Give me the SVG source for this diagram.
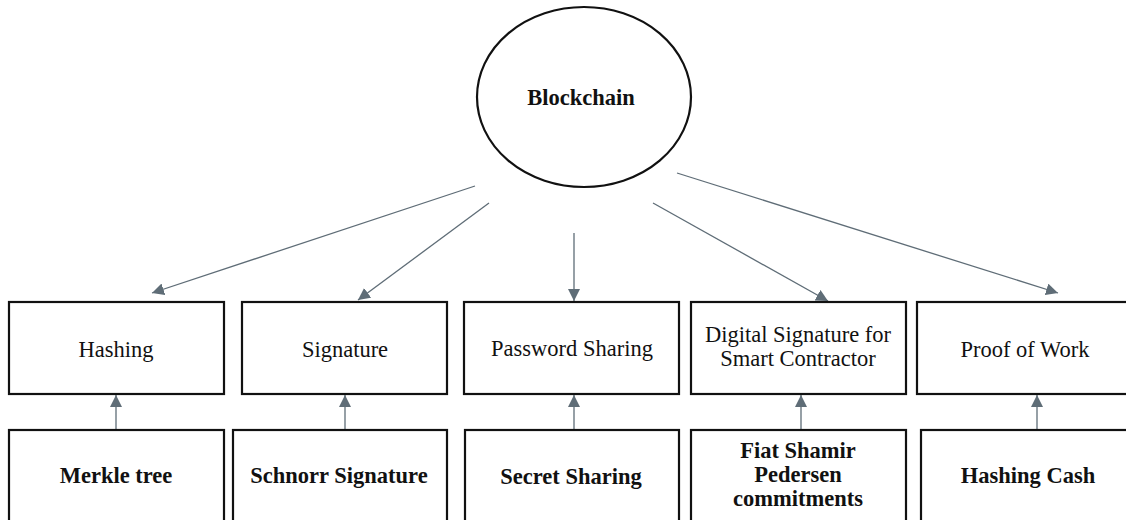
<svg xmlns="http://www.w3.org/2000/svg" width="1126" height="520" viewBox="0 0 1126 520">
<style>
.box{fill:#fff;stroke:#111;stroke-width:2.2}
.t{font-family:"Liberation Serif","Times New Roman",serif;font-size:22.5px;fill:#111;text-anchor:middle}
.b{font-weight:bold}
.c{stroke:#5f6d77;stroke-width:1.3;fill:none}
</style>
<defs>
<marker id="ah" viewBox="0 0 12 12" refX="12" refY="6" markerWidth="12" markerHeight="12" markerUnits="userSpaceOnUse" orient="auto">
<path d="M0,0 L12,6 L0,12 Z" fill="#5f6d77"/>
</marker>
</defs>
<rect width="1126" height="520" fill="#fff"/>
<g id="connectors">
<line class="c" x1="475" y1="186" x2="152" y2="293" marker-end="url(#ah)"/>
<line class="c" x1="489" y1="203" x2="358" y2="300" marker-end="url(#ah)"/>
<line class="c" x1="574" y1="233" x2="574" y2="301" marker-end="url(#ah)"/>
<line class="c" x1="653" y1="203" x2="828" y2="301" marker-end="url(#ah)"/>
<line class="c" x1="677" y1="173" x2="1058" y2="293" marker-end="url(#ah)"/>
<line class="c" x1="116" y1="430" x2="116" y2="395" marker-end="url(#ah)"/>
<line class="c" x1="345" y1="430" x2="345" y2="395" marker-end="url(#ah)"/>
<line class="c" x1="574" y1="430" x2="574" y2="395" marker-end="url(#ah)"/>
<line class="c" x1="801" y1="430" x2="801" y2="395" marker-end="url(#ah)"/>
<line class="c" x1="1037" y1="430" x2="1037" y2="395" marker-end="url(#ah)"/>
</g>
<g id="blockchain">
<ellipse cx="584" cy="97" rx="107" ry="90" fill="#fff" stroke="#111" stroke-width="2.2"/>
<text class="t b" x="581" y="105">Blockchain</text>
</g>
<g id="hashing"><rect class="box" x="9" y="302" width="215" height="92"/><text class="t" x="116" y="357">Hashing</text></g>
<g id="signature"><rect class="box" x="242" y="302" width="205" height="92"/><text class="t" x="345" y="357">Signature</text></g>
<g id="password-sharing"><rect class="box" x="464" y="302" width="215" height="92"/><text class="t" x="572" y="356">Password Sharing</text></g>
<g id="digital-signature"><rect class="box" x="691" y="302" width="215" height="92"/><text class="t" x="798" y="342">Digital Signature for</text><text class="t" x="798" y="366">Smart Contractor</text></g>
<g id="proof-of-work"><rect class="box" x="917" y="302" width="216" height="92"/><text class="t" x="1025" y="357">Proof of Work</text></g>
<g id="merkle-tree"><rect class="box" x="9" y="430" width="215" height="100"/><text class="t b" x="116" y="483">Merkle tree</text></g>
<g id="schnorr-signature"><rect class="box" x="233" y="430" width="214" height="100"/><text class="t b" x="339" y="483">Schnorr Signature</text></g>
<g id="secret-sharing"><rect class="box" x="465" y="430" width="214" height="100"/><text class="t b" x="571" y="484">Secret Sharing</text></g>
<g id="fiat-shamir"><rect class="box" x="691" y="430" width="215" height="100"/><text class="t b" x="798" y="458">Fiat Shamir</text><text class="t b" x="798" y="482">Pedersen</text><text class="t b" x="798" y="506">commitments</text></g>
<g id="hashing-cash"><rect class="box" x="921" y="430" width="212" height="100"/><text class="t b" x="1028" y="483">Hashing Cash</text></g>
</svg>
